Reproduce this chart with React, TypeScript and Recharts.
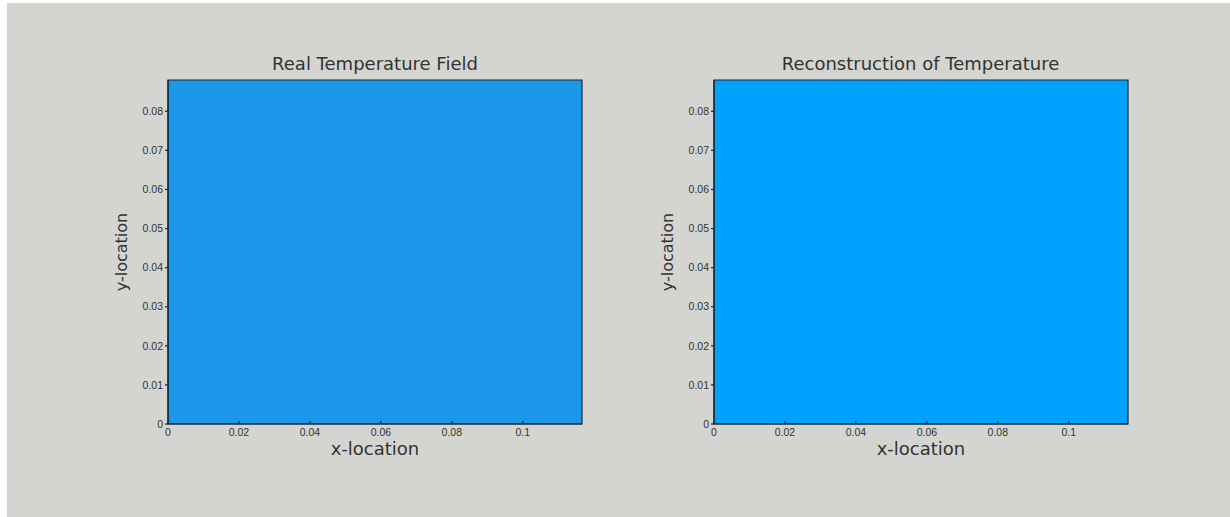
import React from 'react';
import { ComposedChart, XAxis, YAxis, ReferenceArea, Scatter } from 'recharts';

const xTicks = [0, 0.02, 0.04, 0.06, 0.08, 0.1];
const yTicks = [0, 0.01, 0.02, 0.03, 0.04, 0.05, 0.06, 0.07, 0.08];
const xExtent = [0, 0.1167];
const yExtent = [0, 0.088];

// Mean field colour of each panel (temperature field is almost uniform)
const realField = [{ x1: 0, x2: 0.1167, y1: 0, y2: 0.088, color: '#1b98ea' }];
const reconField = [{ x1: 0, x2: 0.1167, y1: 0, y2: 0.088, color: '#01a2fd' }];
const corners = [
  { x: 0, y: 0 },
  { x: 0.1167, y: 0.088 },
];

const panels = [
  { title: 'Real Temperature Field', field: realField, left: 0 },
  { title: 'Reconstruction of Temperature', field: reconField, left: 545.5 },
];

const W = 600;
const H = 517;
const M = { top: 80, right: 18, bottom: 33, left: 108 };
const tickStyle = { fontSize: 10.5, fill: '#333', fontFamily: 'Liberation Sans, Arial, sans-serif' };
const lineStyle = { stroke: '#1c2633', strokeWidth: 1.2 };
const fmt = (v: number) => String(v);
const blank = () => '';

function Panel({ title, field, left }: { title: string; field: typeof realField; left: number }) {
  const plotLeft = M.left + 60;
  const plotW = W - M.right - plotLeft;
  return (
    <div style={{ position: 'absolute', left, top: 0, width: W, height: H }}>
      <div
        style={{
          position: 'absolute',
          left: plotLeft,
          width: plotW,
          top: 53,
          textAlign: 'center',
          fontFamily: 'DejaVu Sans, sans-serif',
          fontSize: 18,
          color: '#333',
          lineHeight: '22px',
        }}
      >
        {title}
      </div>
      <ComposedChart width={W} height={H} margin={M} data={corners}>
        {field.map((c, i) => (
          <ReferenceArea
            key={i}
            xAxisId="b"
            yAxisId="l"
            x1={c.x1}
            x2={c.x2}
            y1={c.y1}
            y2={c.y2}
            fill={c.color}
            fillOpacity={1}
            stroke="#1c2633"
            strokeWidth={1.2}
          />
        ))}
        <XAxis
          xAxisId="b"
          dataKey="x"
          type="number"
          domain={xExtent}
          ticks={xTicks}
          allowDataOverflow
          tickFormatter={fmt}
          tick={tickStyle}
          tickSize={-3}
          tickMargin={8}
          axisLine={lineStyle}
          tickLine={lineStyle}
          height={60}
          label={{
            value: 'x-location',
            position: 'insideTop',
            offset: 18,
            style: { fontSize: 18, fill: '#333', fontFamily: 'DejaVu Sans, sans-serif' },
          }}
        />
        <XAxis
          xAxisId="t"
          orientation="top"
          dataKey="x"
          type="number"
          domain={xExtent}
          ticks={xTicks}
          allowDataOverflow
          tickFormatter={blank}
          tickSize={-3}
          axisLine={lineStyle}
          tickLine={lineStyle}
          height={0}
        />
        <YAxis
          yAxisId="l"
          dataKey="y"
          type="number"
          domain={yExtent}
          ticks={yTicks}
          allowDataOverflow
          tickFormatter={fmt}
          tick={tickStyle}
          tickSize={3}
          tickMargin={2}
          axisLine={lineStyle}
          tickLine={lineStyle}
          width={60}
          label={{
            value: 'y-location',
            angle: -90,
            position: 'insideLeft',
            offset: 13,
            style: { fontSize: 16, fill: '#333', fontFamily: 'DejaVu Sans, sans-serif', textAnchor: 'middle' },
          }}
        />
        <YAxis
          yAxisId="r"
          orientation="right"
          dataKey="y"
          type="number"
          domain={yExtent}
          ticks={yTicks}
          allowDataOverflow
          tickFormatter={blank}
          tickSize={-3}
          axisLine={lineStyle}
          tickLine={lineStyle}
          width={0}
        />
        <Scatter xAxisId="b" yAxisId="l" dataKey="y" fill="none" shape={() => null} isAnimationActive={false} />
      </ComposedChart>
    </div>
  );
}

export default function App() {
  return (
    <div style={{ position: 'absolute', left: 0, top: 0, width: 1230, height: 517, background: '#ffffff' }}>
      <div style={{ position: 'absolute', left: 7, top: 3, width: 1223, height: 514, background: '#d4d5d1' }} />
      {panels.map((p) => (
        <Panel key={p.title} title={p.title} field={p.field} left={p.left} />
      ))}
    </div>
  );
}
